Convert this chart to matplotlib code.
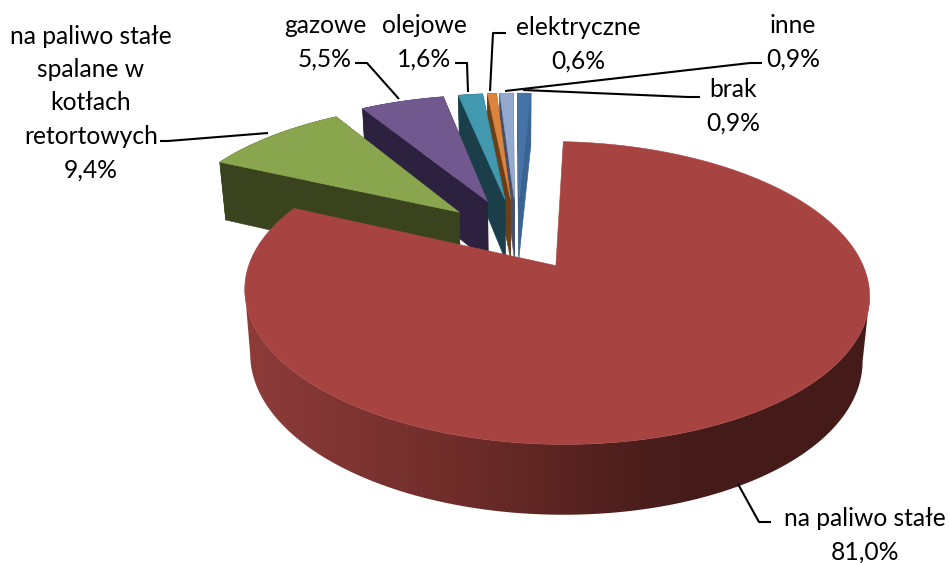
import numpy as np
import matplotlib
matplotlib.use('Agg')
import matplotlib.pyplot as plt
from matplotlib.patches import Polygon

plt.rcParams['font.family'] = ['Lato', 'DejaVu Sans']

# Slices in drawing order round the pie, clockwise from the top
names = ['brak', 'na paliwo stałe', 'na paliwo stałe\nspalane w\nkotłach\nretortowych',
         'gazowe', 'olejowe', 'elektryczne', 'inne']
values = [0.9, 81.0, 9.4, 5.5, 1.6, 0.6, 0.9]
top_colors = ['#4573A7', '#A74442', '#89A54E', '#71588F', '#4198AF', '#DB843D', '#93A9CF']
side_colors = ['#3A6593', '#6B2A28', '#39431E', '#2C213F', '#1A3F4A', '#6A3F1A', '#465069']
explode = [0.285, 0.245, 0.27, 0.285, 0.285, 0.285, 0.285]

# Label centres in pixels
label_x = [733, 865, 91, 325, 424, 578, 793]
label_y = [106, 535, 103, 42, 42, 44, 42]

# Leader lines in pixels
leaders = [
    [(700, 97), (688, 97), (523, 90)],
    [(771, 522), (759, 522), (738, 484)],
    [(160, 141), (168, 141), (268, 133)],
    [(355, 63), (367, 63), (399, 99)],
    [(455, 63), (467, 63), (468, 92)],
    [(506, 33), (493, 33), (490, 91)],
    [(762, 63), (750, 63), (505, 91)],
]

# 3D view settings
start_angle = -0.3
cx, cy = 517, 236
rx, ry = 296, 136
persp = 0.174


def project(u, v, lower=False):
    s = 1 / (1 - persp * v)
    x = cx + rx * u * s
    y = cy + ry * v * s
    if lower:
        # the pie gets a bit narrower towards its bottom face
        x = cx + (x - cx) * 0.98
        y = y + 62 + 6.9 * v
    return x, y


fig = plt.figure(figsize=(9.49, 5.63), dpi=100)
ax = fig.add_axes([0, 0, 1, 1])

total = sum(values)
# draw order: the back slices first, the big red one last
order = [0, 6, 5, 4, 3, 2, 1]
edges = np.radians(start_angle + 360 * np.cumsum([0] + values) / total)

for rank, i in enumerate(order):
    a1, a2 = edges[i], edges[i + 1]
    mid = (a1 + a2) / 2
    u0 = explode[i] * np.sin(mid)
    v0 = -explode[i] * np.cos(mid)
    theta = np.linspace(a1, a2, max(int(np.degrees(a2 - a1) * 2), 4))
    u = u0 + np.sin(theta)
    v = v0 - np.cos(theta)

    tx, ty = project(u, v)
    bx, by = project(u, v, lower=True)
    ax0, ay0 = project(u0, v0)
    bx0, by0 = project(u0, v0, lower=True)
    z = 2 + rank * 2

    if i == 1:
        # outer wall of the big slice, from its right extreme round the front to its left extreme
        j1, j2 = np.argmax(tx), np.argmin(tx)
        wall = Polygon(np.c_[np.r_[tx[j1:j2 + 1], bx[j1:j2 + 1][::-1]],
                             np.r_[ty[j1:j2 + 1], by[j1:j2 + 1][::-1]]],
                       transform=ax.transData, fc='none', ec='none')
        ax.add_patch(wall)
        grad_x = np.arange(949)
        shade = np.stack([
            np.interp(grad_x, [243, 450, 640, 720, 868], [142, 112, 75, 68, 68]),
            np.interp(grad_x, [243, 450, 640, 720, 868], [60, 45, 30, 27, 28]),
            np.interp(grad_x, [243, 450, 640, 720, 868], [58, 42, 28, 25, 26]),
        ], axis=-1)[np.newaxis, :, :] / 255
        img = ax.imshow(shade, extent=[0, 949, 563, 0], aspect='auto', zorder=z)
        img.set_clip_path(wall)
    else:
        ax.fill([ax0, tx[0], bx[0], bx0], [ay0, ty[0], by[0], by0], color=side_colors[i], lw=0.4, zorder=z)
        ax.fill([ax0, tx[-1], bx[-1], bx0], [ay0, ty[-1], by[-1], by0], color=side_colors[i], lw=0.4, zorder=z)
        ax.fill(np.r_[tx, bx[::-1]], np.r_[ty, by[::-1]], color=side_colors[i], lw=0.4, zorder=z)

    ax.fill(np.r_[ax0, tx], np.r_[ay0, ty], color=top_colors[i], lw=0.4, zorder=z + 1)

for pts in leaders:
    xs, ys = zip(*pts)
    ax.plot(xs, ys, color='black', lw=1.5, zorder=20, solid_capstyle='butt')

for name, val, x, y in zip(names, values, label_x, label_y):
    pct = f'{val:.1f}%'.replace('.', ',')
    ax.text(x, y, f'{name}\n{pct}', ha='center', va='center', fontsize=17.7, color='black',
            linespacing=1.55, zorder=21)

ax.set_xlim(0, 949)
ax.set_ylim(563, 0)
ax.axis('off')

plt.savefig('out.png', dpi=100)
